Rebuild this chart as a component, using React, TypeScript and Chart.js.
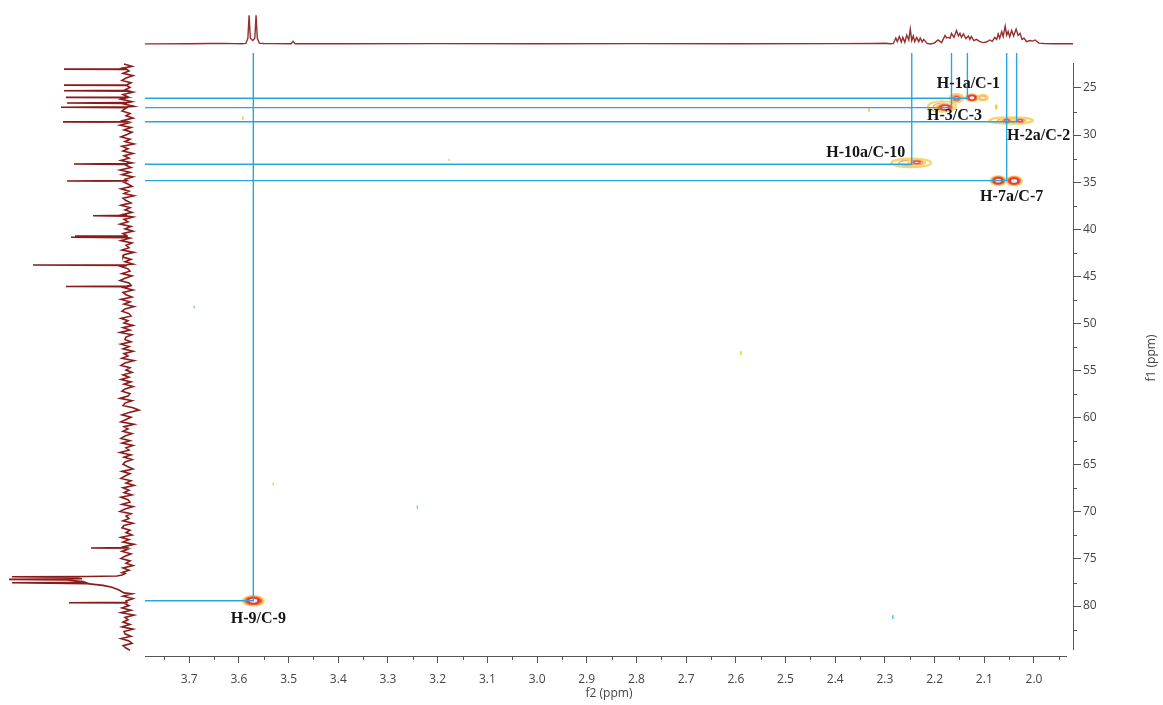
import React, { useEffect, useRef } from 'react';
import { Chart, registerables } from 'chart.js';
Chart.register(...registerables);

// ---------- axis ranges (ppm) ----------
const F2_LEFT = 3.789;
const F2_RIGHT = 1.9215;
const F1_TOP = 22.35;
const F1_BOTTOM = 85.3;
const LINE_TOP = 21.28; // where the guide lines stop, just under the 1H trace

// ---------- tick values ----------
const f2MajorTicks = [3.7, 3.6, 3.5, 3.4, 3.3, 3.2, 3.1, 3.0, 2.9, 2.8, 2.7, 2.6, 2.5, 2.4, 2.3, 2.2, 2.1, 2.0];
const f2MinorTicks = [3.75, 3.65, 3.55, 3.45, 3.35, 3.25, 3.15, 3.05, 2.95, 2.85, 2.75, 2.65, 2.55, 2.45, 2.35, 2.25, 2.15, 2.05, 1.95];
const f1MajorTicks = [25, 30, 35, 40, 45, 50, 55, 60, 65, 70, 75, 80];
const f1MinorTicks = [27.5, 32.5, 37.5, 42.5, 47.5, 52.5, 57.5, 62.5, 67.5, 72.5, 77.5, 82.5];

// ---------- HSQC correlations ----------
const corrLabels = ['H-1a/C-1', 'H-3/C-3', 'H-2a/C-2', 'H-10a/C-10', 'H-7a/C-7', 'H-9/C-9'];
const corrH = [2.134, 2.166, 2.035, 2.246, 2.055, 3.571];
const corrC = [26.09, 27.09, 28.58, 33.10, 34.84, 79.44];
// label offsets from the correlation corner (px)
const labelOffsets = [[1, -14], [3, 8], [22, 14], [-46, -11], [5, 16], [5, 18]];

// ---------- cross-peak contours ----------
const peakH = [3.571, 2.072, 2.040, 2.247, 2.236, 2.046, 2.055, 2.028, 2.185, 2.179, 2.156, 2.125, 2.103,
  3.592, 3.177, 2.332, 2.590, 3.531, 2.076, 3.690, 3.241, 2.284];
const peakC = [79.44, 34.84, 34.87, 32.96, 32.89, 28.45, 28.47, 28.47, 26.96, 27.07, 26.09, 26.03, 26.03,
  28.19, 32.64, 27.34, 53.14, 67.05, 27.02, 48.25, 69.49, 81.17];
const peakHalfH = [0.016, 0.012, 0.012, 0.040, 0.012, 0.044, 0.008, 0.008, 0.028, 0.013, 0.010, 0.010, 0.010,
  0.002, 0.0015, 0.002, 0.002, 0.0015, 0.003, 0.0015, 0.0015, 0.002];
const peakHalfC = [0.42, 0.40, 0.40, 0.45, 0.22, 0.34, 0.20, 0.20, 0.55, 0.32, 0.32, 0.32, 0.30,
  0.20, 0.15, 0.20, 0.25, 0.15, 0.30, 0.15, 0.20, 0.25];
const peakLevel = [3, 3, 3, 1, 2, 1, 2, 2, 1, 3, 2, 3, 1,
  0, 0, 0, 0, 0, 0, -1, -1, -1];

// ---------- 1H projection (ppm, relative intensity) ----------
const h1Ppm = [3.79, 3.70, 3.66, 3.63, 3.61, 3.595,
  3.586, 3.582, 3.5795, 3.577, 3.572, 3.568, 3.5655, 3.563, 3.559, 3.55, 3.53,
  3.495, 3.491, 3.487,
  3.40, 3.20, 3.00, 2.80, 2.60, 2.40, 2.32, 2.30, 2.288,
  2.283, 2.278, 2.275, 2.271, 2.267, 2.264, 2.260, 2.256, 2.252, 2.249, 2.246, 2.243, 2.240, 2.236, 2.232, 2.229, 2.225, 2.222,
  2.215, 2.209, 2.201, 2.193, 2.186, 2.179, 2.176, 2.172, 2.169, 2.166, 2.161, 2.156, 2.152, 2.149, 2.146, 2.142, 2.137,
  2.132, 2.129, 2.126, 2.121, 2.116, 2.109, 2.102, 2.096, 2.089, 2.084, 2.079, 2.075, 2.072, 2.069, 2.065, 2.062, 2.058,
  2.055, 2.052, 2.049, 2.045, 2.041, 2.036, 2.032, 2.028, 2.024, 2.020, 2.015, 2.008, 2.003, 1.998, 1.990, 1.980, 1.960, 1.920];
const h1Int = [0.5, 0.8, 1.5, 2, 1.2, 1,
  2, 20, 100, 20, 12, 20, 100, 20, 3, 1.5, 1.2,
  1, 9, 1,
  1, 1.3, 1.1, 1.3, 1.1, 1.3, 1.8, 2.5, 1,
  2, 21, 8, 26, 7, 23, 6, 31, 14, 52, 12, 28, 8, 23, 8, 21, 7, 16,
  2, 0, 3, 14, 5, 30, 21, 23, 20, 37, 23, 47, 28, 37, 23, 35, 19,
  28, 16, 26, 12, 16, 8, 5, 7, 14, 9, 23, 16, 35, 20, 43, 26, 62,
  31, 44, 25, 47, 28, 52, 30, 37, 16, 20, 8, 12, 10, 14, 3, 1.5, 1, 1];

// ---------- 13C projection ----------
const c13PeakPpm = [23.0, 24.7, 25.3, 26.0, 26.6, 27.05, 28.6, 33.07, 34.87, 38.56, 40.72, 40.85, 43.8, 46.07, 73.84, 79.65];
const c13PeakAmp = [63, 63, 63, 61, 60, 66, 64, 53, 60, 34, 52, 56, 94, 61, 36, 58];
// CDCl3 solvent triplet with its broad foot
const solventPpm = [76.55, 76.70, 76.80, 76.86, 76.89, 76.95, 77.10, 77.17, 77.24, 77.40, 77.48, 77.53, 77.62, 77.80, 78.00, 78.30, 78.60];
const solventAmp = [2, 5, 10, 40, 115, 55, 45, 118, 60, 44, 42, 115, 40, 24, 15, 8, 3];
// baseline noise, one value every 0.25 ppm from 22.45 ppm
const NOISE_START = 22.45;
const NOISE_STEP = 0.25;
const c13Noise = [
  3, -5, 6, -2, 4, -6, 1, 5, -4, 7,
  -3, 2, -6, 4, -1, 6, -5, 3, -7, 2,
  5, -3, 1, -6, 4, -2, 7, -4, 3, -5,
  0, 6, -3, 2, -7, 5, -1, 4, -6, 3,
  -2, 6, -5, 1, -4, 7, -3, 5, -6, 2,
  4, -1, -5, 6, -2, 3, -7, 4, 1, -4,
  6, -3, 2, -5, 5, -6, 3, -1, 7, -4,
  2, -6, 4, 0, -3, 6, -5, 1, -2, 5,
  -7, 3, 4, -4, 2, -6, 6, -1, -3, 5,
  -5, 2, 7, -2, -4, 3, -6, 4, 1, -5,
  6, -3, 3, -7, 2, 5, -2, -4, 6, -1,
  3, -6, 4, -3, 7, -5, 1, 2, -4, 6,
  -2, 4, -6, 3, -1, 5, -7, 2, 6, -3,
  1, -5, 4, -2, 6, -4, 3, -6, 2, 5,
  -3, -1, 7, -5, 2, 4, -6, -12, -2, 5,
  -4, 1, 6, -7, 3, -1, 4, -5, 2, 6,
  -3, 5, -6, 1, -2, 7, -4, 3, -5, 2,
  4, -1, -6, 5, -3, 2, 6, -4, 1, -7,
  4, -2, 3, -5, 6, -1, -3, 5, -6, 2,
  7, -4, 1, -2, 4, -6, 3, 5, -3, 1,
  -5, 6, -2, 4, -7, 3, -1, 5, -4, 2,
  6, -3, 1, -6, 4, -2, 5, -5, 3, 7,
  -1, -4, 6, -3, 2, -5, 4, -6, 1, 3,
  -2, 5, -4, 6, -7, 2, -1, 4, -3, 5,
  -6, 3, 2, -4, 6, -2, -5, 4, 1, -3,
];

// ---------- styles ----------
const TICK_FONT = { family: '"Open Sans", "DejaVu Sans", sans-serif', size: 12 };
const AXIS_COLOR = '#555555';
const TEXT_COLOR = '#444444';
const GUIDE_COLOR = '#27a7e2';
const TRACE_COLOR = '#962e2e';

function buildC13Points() {
  const pts: { x: number; y: number }[] = [];
  c13Noise.forEach((v, i) => {
    const ppm = NOISE_START + i * NOISE_STEP;
    if (ppm > 76.5 && ppm < 78.65) return;
    pts.push({ x: v, y: ppm });
  });
  c13PeakPpm.forEach((p, i) => {
    pts.push({ x: 0, y: p - 0.04 });
    pts.push({ x: c13PeakAmp[i], y: p });
    pts.push({ x: 0, y: p + 0.04 });
  });
  solventPpm.forEach((p, i) => pts.push({ x: solventAmp[i], y: p }));
  pts.sort((a, b) => a.y - b.y);
  return pts;
}

function drawBlob(ctx: CanvasRenderingContext2D, x: number, y: number, rx: number, ry: number, level: number) {
  const ell = (k: number) => {
    ctx.beginPath();
    ctx.ellipse(x, y, Math.max(rx * k, 0.8), Math.max(ry * k, 0.8), 0, 0, Math.PI * 2);
  };
  if (level === 3) {
    const layers: [number, string][] = [[1.5, 'rgba(251,221,125,0.95)'], [1.28, '#f7ad62'], [1.08, '#ec5638'], [0.85, '#e53a2c'], [0.5, '#eef1fa']];
    layers.forEach(([k, c]) => { ell(k); ctx.fillStyle = c; ctx.fill(); });
  } else if (level === 2) {
    const layers: [number, string, number][] = [[1.45, '#f9d67a', 1.8], [1.0, '#f4a660', 1.5], [0.6, '#ec5252', 1.5]];
    layers.forEach(([k, c, w]) => { ell(k); ctx.strokeStyle = c; ctx.lineWidth = w; ctx.stroke(); });
  } else if (level === 1) {
    const layers: [number, string, number][] = [[1.0, '#f8d46a', 2.2], [0.62, '#f5b070', 1.5]];
    layers.forEach(([k, c, w]) => { ell(k); ctx.strokeStyle = c; ctx.lineWidth = w; ctx.stroke(); });
  } else if (level === 0) {
    ell(1); ctx.fillStyle = '#f3cc48'; ctx.fill();
  } else {
    ell(1); ctx.fillStyle = '#5cd0ea'; ctx.fill();
  }
}

const hsqcPlugin = {
  id: 'hsqcPlugin',
  beforeDatasetsDraw(chart: any) {
    const { ctx, scales } = chart;
    const xs = scales.x, ys = scales.y;
    ctx.save();
    peakH.forEach((h, i) => {
      const x = xs.getPixelForValue(h);
      const y = ys.getPixelForValue(peakC[i]);
      const rx = Math.abs(xs.getPixelForValue(h + peakHalfH[i]) - x);
      const ry = Math.abs(ys.getPixelForValue(peakC[i] + peakHalfC[i]) - y);
      drawBlob(ctx, x, y, rx, ry, peakLevel[i]);
    });
    ctx.restore();
  },
  afterDatasetsDraw(chart: any) {
    const { ctx, scales } = chart;
    ctx.save();
    ctx.font = 'bold 16px "Liberation Serif", "Times New Roman", serif';
    ctx.fillStyle = '#151515';
    ctx.textAlign = 'center';
    ctx.textBaseline = 'middle';
    corrLabels.forEach((t, i) => {
      const x = scales.x.getPixelForValue(corrH[i]) + labelOffsets[i][0];
      const y = scales.y.getPixelForValue(corrC[i]) + labelOffsets[i][1];
      ctx.fillText(t, x, y);
    });
    ctx.restore();
  },
  afterDraw(chart: any) {
    const { ctx, chartArea, scales } = chart;
    const { left, right, top, bottom } = chartArea;
    ctx.save();
    ctx.strokeStyle = AXIS_COLOR;
    ctx.lineWidth = 1;
    ctx.beginPath();
    ctx.moveTo(left, bottom + 0.5);
    ctx.lineTo(right - 6, bottom + 0.5);
    ctx.moveTo(right + 0.5, top);
    ctx.lineTo(right + 0.5, bottom - 6);
    f2MinorTicks.forEach((v) => {
      const px = Math.round(scales.x.getPixelForValue(v)) + 0.5;
      ctx.moveTo(px, bottom);
      ctx.lineTo(px, bottom + 4);
    });
    f1MinorTicks.forEach((v) => {
      const py = Math.round(scales.y.getPixelForValue(v)) + 0.5;
      ctx.moveTo(right, py);
      ctx.lineTo(right + 4, py);
    });
    ctx.stroke();
    ctx.translate(1152, 358);
    ctx.rotate(-Math.PI / 2);
    ctx.font = '12px "Open Sans", "DejaVu Sans", sans-serif';
    ctx.fillStyle = TEXT_COLOR;
    ctx.textAlign = 'center';
    ctx.textBaseline = 'middle';
    ctx.fillText('f1 (ppm)', 0, 0);
    ctx.restore();
  },
};

function mainConfig(): any {
  const datasets = corrH.map((h, i) => ({
    data: [
      { x: F2_LEFT, y: corrC[i] },
      { x: h, y: corrC[i] },
      { x: h, y: LINE_TOP },
    ],
    showLine: true,
    borderColor: GUIDE_COLOR,
    borderWidth: 1.4,
    pointRadius: 0,
    tension: 0,
    clip: false,
  }));
  return {
    type: 'scatter',
    data: { datasets },
    options: {
      animation: false,
      responsive: false,
      events: [],
      layout: { padding: { left: 145, top: 63, right: 0, bottom: 0 } },
      plugins: { legend: { display: false }, tooltip: { enabled: false } },
      scales: {
        x: {
          type: 'linear',
          position: 'bottom',
          reverse: true,
          min: F2_RIGHT,
          max: F2_LEFT,
          afterBuildTicks: (s: any) => { s.ticks = f2MajorTicks.map((v) => ({ value: v })); },
          afterFit: (s: any) => { s.height = 49; },
          border: { display: false },
          grid: { drawOnChartArea: false, drawTicks: true, tickLength: 7, tickColor: AXIS_COLOR },
          ticks: {
            font: TICK_FONT, color: TEXT_COLOR, padding: 9, maxRotation: 0, autoSkip: false,
            callback: (v: any) => Number(v).toFixed(1),
          },
          title: { display: true, text: 'f2 (ppm)', font: TICK_FONT, color: TEXT_COLOR, padding: { top: 0, bottom: 4 } },
        },
        y: {
          type: 'linear',
          position: 'right',
          reverse: true,
          min: F1_TOP,
          max: F1_BOTTOM,
          afterBuildTicks: (s: any) => { s.ticks = f1MajorTicks.map((v) => ({ value: v })); },
          afterFit: (s: any) => { s.width = 90; },
          border: { display: false },
          grid: { drawOnChartArea: false, drawTicks: true, tickLength: 8, tickColor: AXIS_COLOR },
          ticks: { font: TICK_FONT, color: TEXT_COLOR, padding: 2, autoSkip: false, callback: (v: any) => String(v) },
        },
      },
    },
    plugins: [hsqcPlugin],
  };
}

function topConfig(): any {
  return {
    type: 'scatter',
    data: {
      datasets: [{
        data: h1Ppm.map((p, i) => ({ x: p, y: h1Int[i] })),
        showLine: true, borderColor: TRACE_COLOR, borderWidth: 1.4, pointRadius: 0, tension: 0,
      }],
    },
    options: {
      animation: false, responsive: false, events: [],
      layout: { padding: { left: 145, right: 90, top: 0, bottom: 0 } },
      plugins: { legend: { display: false }, tooltip: { enabled: false } },
      scales: {
        x: { type: 'linear', display: false, reverse: true, min: F2_RIGHT, max: F2_LEFT },
        y: { type: 'linear', display: false, min: -55.75, max: 153.3 },
      },
    },
  };
}

function leftConfig(): any {
  return {
    type: 'scatter',
    data: {
      datasets: [{
        data: buildC13Points(),
        showLine: true, borderColor: '#8a1b1b', borderWidth: 1.6, pointRadius: 0, tension: 0,
      }],
    },
    options: {
      animation: false, responsive: false, events: [],
      layout: { padding: 0 },
      plugins: { legend: { display: false }, tooltip: { enabled: false } },
      scales: {
        x: { type: 'linear', display: false, reverse: true, min: -18, max: 127 },
        y: { type: 'linear', display: false, reverse: true, min: F1_TOP, max: F1_BOTTOM },
      },
    },
  };
}

export default function App() {
  const mainRef = useRef<HTMLCanvasElement>(null);
  const topRef = useRef<HTMLCanvasElement>(null);
  const leftRef = useRef<HTMLCanvasElement>(null);
  useEffect(() => {
    const charts = [
      new Chart(mainRef.current as HTMLCanvasElement, mainConfig()),
      new Chart(topRef.current as HTMLCanvasElement, topConfig()),
      new Chart(leftRef.current as HTMLCanvasElement, leftConfig()),
    ];
    return () => charts.forEach((c) => c.destroy());
  }, []);
  return (
    <div style={{ position: 'absolute', left: 0, top: 0, width: 1163, height: 705, background: '#ffffff', overflow: 'hidden' }}>
      <canvas ref={mainRef} width={1163} height={705} style={{ position: 'absolute', left: 0, top: 0, width: 1163, height: 705 }} />
      <canvas ref={topRef} width={1163} height={60} style={{ position: 'absolute', left: 0, top: 0, width: 1163, height: 60 }} />
      <canvas ref={leftRef} width={145} height={593} style={{ position: 'absolute', left: 0, top: 63, width: 145, height: 593 }} />
    </div>
  );
}
